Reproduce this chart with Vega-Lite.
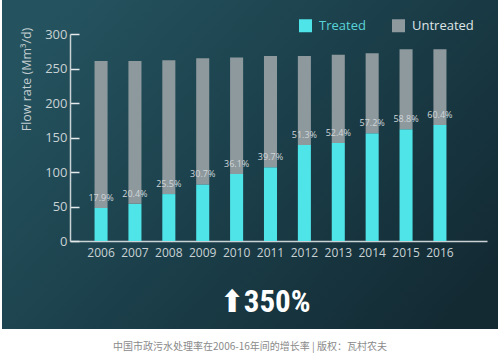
{
  "$schema": "https://vega.github.io/schema/vega-lite/v6.json",
  "width": 496,
  "height": 329,
  "autosize": {"type": "none"},
  "padding": {"left": 2, "top": 0, "right": 4, "bottom": 32},
  "background": "#ffffff",
  "view": {
    "stroke": null,
    "fill": {
      "gradient": "linear",
      "x1": 0, "y1": 0.2, "x2": 1, "y2": 0.8,
      "stops": [
        {"offset": 0, "color": "#24535f"},
        {"offset": 0.5, "color": "#1b3f4a"},
        {"offset": 1, "color": "#132a33"}
      ]
    }
  },
  "title": {
    "text": "中国市政污水处理率在2006-16年间的增长率 | 版权：瓦村农夫",
    "orient": "bottom",
    "anchor": "middle",
    "frame": "group",
    "offset": 13,
    "font": "Noto Sans CJK SC",
    "fontSize": 10,
    "fontWeight": "normal",
    "color": "#8a8a8a"
  },
  "data": {
    "values": [
      {"year": "2006", "type": "Treated", "value": 48, "pct": "17.9%"},
      {"year": "2006", "type": "Untreated", "value": 213},
      {"year": "2007", "type": "Treated", "value": 54, "pct": "20.4%"},
      {"year": "2007", "type": "Untreated", "value": 207},
      {"year": "2008", "type": "Treated", "value": 68, "pct": "25.5%"},
      {"year": "2008", "type": "Untreated", "value": 194},
      {"year": "2009", "type": "Treated", "value": 82, "pct": "30.7%"},
      {"year": "2009", "type": "Untreated", "value": 183},
      {"year": "2010", "type": "Treated", "value": 97, "pct": "36.1%"},
      {"year": "2010", "type": "Untreated", "value": 169},
      {"year": "2011", "type": "Treated", "value": 107, "pct": "39.7%"},
      {"year": "2011", "type": "Untreated", "value": 161},
      {"year": "2012", "type": "Treated", "value": 139, "pct": "51.3%"},
      {"year": "2012", "type": "Untreated", "value": 129},
      {"year": "2013", "type": "Treated", "value": 142, "pct": "52.4%"},
      {"year": "2013", "type": "Untreated", "value": 128},
      {"year": "2014", "type": "Treated", "value": 156, "pct": "57.2%"},
      {"year": "2014", "type": "Untreated", "value": 116},
      {"year": "2015", "type": "Treated", "value": 162, "pct": "58.8%"},
      {"year": "2015", "type": "Untreated", "value": 116},
      {"year": "2016", "type": "Treated", "value": 168, "pct": "60.4%"},
      {"year": "2016", "type": "Untreated", "value": 110}
    ]
  },
  "encoding": {
    "x": {
      "field": "year",
      "type": "ordinal",
      "scale": {"range": [68, 485], "paddingInner": 0.615, "paddingOuter": 0.96, "align": 0.377},
      "axis": {
        "title": null,
        "labelAngle": 0,
        "offset": -88,
        "ticks": false,
        "labelPadding": 6,
        "labelFont": "Open Sans",
        "labelFontSize": 12,
        "labelColor": "#c9d2d5",
        "domainColor": "#c9d2d5",
        "domainWidth": 1.5
      }
    },
    "y": {
      "field": "value",
      "type": "quantitative",
      "stack": "zero",
      "scale": {"domain": [0, 300], "range": [241, 34], "nice": false},
      "axis": {
        "title": "Flow rate (Mm³/d)",
        "titleX": -44,
        "titleY": 79,
        "titleAngle": -90,
        "titleAlign": "center",
        "titleBaseline": "middle",
        "titleFont": "Open Sans",
        "titleFontSize": 12.5,
        "titleFontWeight": "normal",
        "titleColor": "#c3cdd1",
        "offset": -68,
        "values": [0, 50, 100, 150, 200, 250, 300],
        "grid": false,
        "tickSize": -9,
        "tickColor": "#e6eaec",
        "tickWidth": 1.5,
        "labelPadding": 12,
        "labelFont": "Open Sans",
        "labelFontSize": 13,
        "labelColor": "#c9d2d5",
        "domainColor": "#c9d2d5",
        "domainWidth": 1.5
      }
    }
  },
  "layer": [
    {
      "mark": {"type": "bar"},
      "encoding": {
        "order": {"field": "type", "sort": "ascending"},
        "color": {
          "field": "type",
          "type": "nominal",
          "scale": {"domain": ["Treated", "Untreated"], "range": ["#4fe4e8", "#8e999d"]},
          "legend": {
            "title": null,
            "orient": "none",
            "legendX": 297,
            "legendY": 19,
            "direction": "horizontal",
            "symbolType": "square",
            "symbolSize": 169,
            "symbolStrokeWidth": 0,
            "symbolOpacity": 1,
            "labelFont": "Open Sans",
            "labelFontSize": 13,
            "labelOffset": 7,
            "columnPadding": 26,
            "encode": {
              "labels": {
                "update": {
                  "fill": {"signal": "datum.value === 'Treated' ? '#5ad3d8' : '#dfe4e6'"}
                }
              }
            }
          }
        }
      }
    },
    {
      "transform": [{"filter": "datum.type === 'Treated'"}],
      "mark": {
        "type": "text",
        "baseline": "bottom",
        "dy": -5,
        "font": "Open Sans",
        "fontSize": 9,
        "color": "#d0d6d9"
      },
      "encoding": {
        "text": {"field": "pct"},
        "y": {"field": "value", "type": "quantitative", "stack": null}
      }
    },
    {
      "data": {"values": [{"label": "⬆350%", "year": "2011", "value": -90}]},
      "mark": {
        "type": "text",
        "align": "center",
        "baseline": "middle",
        "dx": -5,
        "font": "Roboto Condensed, DejaVu Sans Condensed, Roboto, DejaVu Sans",
        "fontSize": 31,
        "fontWeight": "bold",
        "color": "#ffffff"
      },
      "encoding": {
        "text": {"field": "label"},
        "y": {"field": "value", "type": "quantitative", "stack": null}
      }
    }
  ]
}
